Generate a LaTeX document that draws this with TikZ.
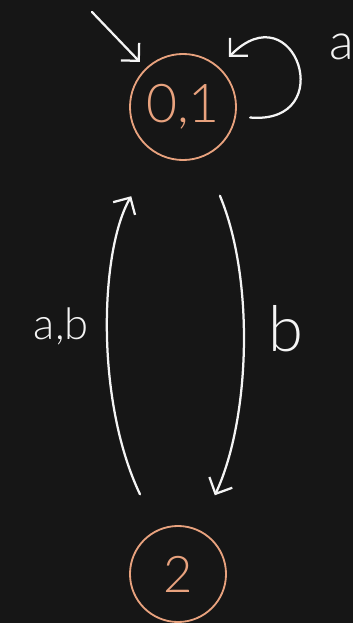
\documentclass[tikz,border=0pt]{standalone}
\usepackage{fontspec}
\setmainfont{Lato}[UprightFont=* Light]
\usetikzlibrary{arrows.meta}

\definecolor{boardbg}{HTML}{161616}
\definecolor{chalk}{HTML}{F4F4F4}
\definecolor{peach}{HTML}{E8A27E}

\begin{document}
\begin{tikzpicture}[
    x=0.025cm, y=-0.025cm,
    state/.style={
      circle,
      draw=peach,
      line width=1.3pt,
      text=peach,
      inner sep=0pt
    },
    edge/.style={
      draw=chalk,
      line width=1.6pt,
      line cap=round,
      line join=round,
      -{Straight Barb[length=9pt,width=18pt]}
    },
    lbl/.style={text=chalk, inner sep=0pt}
  ]

  % Board
  \useasboundingbox (0,0) rectangle (353,623);
  \fill[boardbg] (0,0) rectangle (353,623);

  % States
  \node[state, minimum size=2.65cm, font=\fontsize{38}{40}\selectfont] (q01) at (183,107) {0,1};
  \node[state, minimum size=2.4cm, font=\fontsize{36}{38}\selectfont] (q2) at (178,574) {2};
  \coordinate (init) at (92,12);

  % Edges
  \draw[edge, shorten >=6pt] (init) -- (q01);
  \draw[edge, shorten <=10pt, shorten >=10pt]
    (q01.-10) .. controls (340,125) and (295,-10) .. (q01.48);
  \draw[edge, shorten <=28pt, shorten >=35pt]
    (q2) .. controls (95,400) and (100,250) .. (q01)
    node[lbl, midway, left=16pt, yshift=2pt, font=\fontsize{31}{33}\selectfont] (lab) {a,b};
  \draw[edge, shorten <=30pt, shorten >=27pt]
    (q01) .. controls (255,280) and (250,420) .. (q2)
    node[lbl, midway, right=20pt, yshift=14pt, font=\fontsize{45}{47}\selectfont] (lb) {b};

  % Loop label
  \node[lbl, anchor=west, font=\fontsize{36}{38}\selectfont] (la) at (329,47) {a};

\end{tikzpicture}
\end{document}
